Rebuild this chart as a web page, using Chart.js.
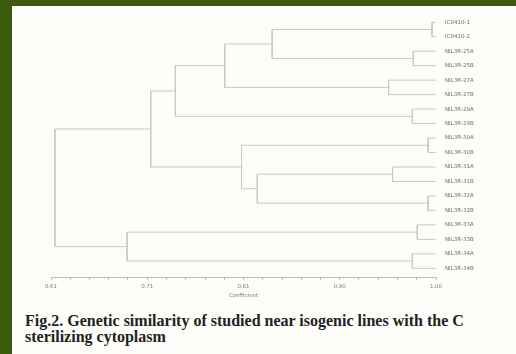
<!DOCTYPE html>
<html>
<head>
<meta charset="utf-8">
<script src="https://cdn.jsdelivr.net/npm/chart.js@4.4.0/dist/chart.umd.min.js"></script>
<style>
  html, body { margin: 0; padding: 0; }
  body { width: 516px; height: 354px; background: #3b5a0c; position: relative; overflow: hidden; }
  #panel { position: absolute; left: 12px; top: 6px; width: 504px; height: 348px; background: #fdfdf9; }
  #wrap { position: absolute; left: 0; top: 0; width: 504px; height: 300px; }
  #caption { position: absolute; left: 13px; top: 307px; width: 490px; white-space: nowrap;
    font-family: "Liberation Serif", "Times New Roman", serif; font-weight: bold;
    font-size: 16px; line-height: 16px; color: #222; }
</style>
</head>
<body>
<div id="panel">
  <div id="wrap"><canvas id="dendro" width="504" height="300"></canvas></div>
  <div id="caption">Fig.2. Genetic similarity of studied near isogenic lines with the C<br>sterilizing cytoplasm</div>
</div>
<script>
// leaf labels, top to bottom
const leafNames = ['IC0410-1', 'IC0410-2', 'NIL3R-25A', 'NIL3R-25B', 'NIL3R-27A', 'NIL3R-27B',
  'NIL3R-29A', 'NIL3R-29B', 'NIL3R-30A', 'NIL3R-30B', 'NIL3R-31A', 'NIL3R-31B',
  'NIL3R-32A', 'NIL3R-32B', 'NIL3R-33A', 'NIL3R-33B', 'NIL3R-34A', 'NIL3R-34B'];

// merges (leaves are 0..17, each merge makes node 18, 19, ...)
const mergeLeft  = [0, 2, 4, 6, 8, 10, 12, 14, 16, 18, 27, 28, 23, 22, 29, 25, 32];
const mergeRight = [1, 3, 5, 7, 9, 11, 13, 15, 17, 19, 20, 21, 24, 30, 31, 26, 33];
const mergeCoef  = [0.996, 0.977, 0.952, 0.976, 0.992, 0.956, 0.992, 0.981, 0.976,
  0.834, 0.786, 0.736, 0.819, 0.803, 0.711, 0.687, 0.614];

// x axis ticks
const tickMin = 0.61;
const tickMax = 1.00;
const tickLabels = ['0.61', '0.71', '0.81', '0.90', '1.00'];

// build node positions
const nodeY = leafNames.map((n, i) => i + 1);
const nodeX = leafNames.map(() => 1.0);
const segs = [];
for (let i = 0; i < mergeCoef.length; i++) {
  const a = mergeLeft[i], b = mergeRight[i], c = mergeCoef[i];
  segs.push({x: nodeX[a], y: nodeY[a]}, {x: c, y: nodeY[a]}, {x: c, y: nodeY[b]}, {x: nodeX[b], y: nodeY[b]}, {x: null, y: null});
  nodeX.push(c);
  nodeY.push((nodeY[a] + nodeY[b]) / 2);
}

const nMinor = 20;
const step = (tickMax - tickMin) / nMinor;

new Chart(document.getElementById('dendro').getContext('2d'), {
  type: 'scatter',
  data: {
    datasets: [{
      data: segs,
      showLine: true,
      spanGaps: false,
      borderColor: '#c8c8c8',
      borderWidth: 1,
      pointRadius: 0,
      fill: false
    }]
  },
  options: {
    responsive: false,
    animation: false,
    layout: { padding: { left: 39, right: 0, top: 9, bottom: 7 } },
    plugins: { legend: { display: false }, tooltip: { enabled: false } },
    scales: {
      x: {
        type: 'linear',
        min: tickMin,
        max: tickMax,
        afterBuildTicks: s => {
          s.ticks = [];
          for (let i = 0; i <= nMinor; i++) s.ticks.push({ value: tickMin + i * step });
        },
        afterFit: s => { s.height = 22; },
        ticks: {
          autoSkip: false,
          maxRotation: 0,
          padding: 3,
          color: '#7e7e7e',
          font: { size: 5.5, family: 'DejaVu Sans' },
          callback: (v, i) => (i % 5 === 0 ? tickLabels[i / 5] : '')
        },
        grid: { drawOnChartArea: false, drawTicks: true, tickLength: 3, color: '#bdbdbd' },
        border: { display: true, color: '#bdbdbd' },
        title: { display: true, text: 'Coefficient', color: '#7e7e7e', font: { size: 5.5, family: 'DejaVu Sans' }, padding: { top: 1, bottom: 0 } }
      },
      y: {
        type: 'linear',
        position: 'right',
        reverse: true,
        min: 0.5,
        max: 18.6,
        afterBuildTicks: s => { s.ticks = leafNames.map((n, i) => ({ value: i + 1 })); },
        afterFit: s => { s.width = 80; },
        ticks: {
          autoSkip: false,
          padding: 1,
          color: '#6e6e6e',
          font: { size: 5.5, family: 'DejaVu Sans' },
          callback: v => leafNames[v - 1]
        },
        grid: { display: false },
        border: { display: false }
      }
    }
  }
});
</script>
</body>
</html>
